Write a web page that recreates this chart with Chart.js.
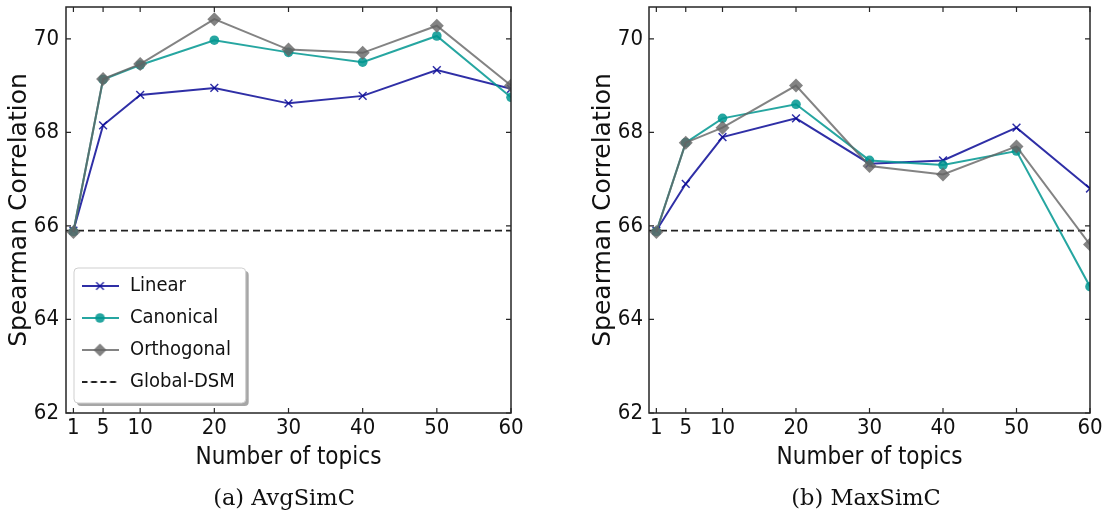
<!DOCTYPE html>
<html>
<head>
<meta charset="utf-8">
<script src="https://cdn.jsdelivr.net/npm/chart.js@4.4.1/dist/chart.umd.min.js"></script>
<style>
  html, body { margin: 0; padding: 0; background: #fff; }
  #wrap { position: relative; width: 1108px; height: 514px; overflow: hidden; }
  .pane { position: absolute; top: 0; height: 514px; }
  #paneA { left: 0; width: 560px; }
  #paneB { left: 560px; width: 548px; }
  .caption {
    position: absolute; top: 483px; transform: translateX(-50%);
    font-family: 'DejaVu Serif', 'Liberation Serif', serif; font-size: 22.5px;
    color: #111; white-space: nowrap; line-height: 28px;
  }
</style>
</head>
<body>
<div id="wrap">
  <div class="pane" id="paneA"><canvas id="chartA" width="560" height="514"></canvas></div>
  <div class="pane" id="paneB"><canvas id="chartB" width="548" height="514"></canvas></div>
  <div class="caption" style="left:284px">(a) AvgSimC</div>
  <div class="caption" style="left:866px">(b) MaxSimC</div>
</div>
<script>
// Number of topics on the x axis
const topics = [1, 5, 10, 20, 30, 40, 50, 60];
const xTicks = [1, 5, 10, 20, 30, 40, 50, 60];
const yTicks = [62, 64, 66, 68, 70];
const xRange = [0, 60];
const yRange = [62, 70.68];

// Global-DSM baseline (same in both panels)
const globalDsm = 65.9;

// (a) AvgSimC
const avgLinear     = [65.9, 68.15, 68.8, 68.95, 68.62, 68.78, 69.33, 68.93];
const avgCanonical  = [65.88, 69.13, 69.44, 69.97, 69.71, 69.5, 70.06, 68.75];
const avgOrthogonal = [65.87, 69.14, 69.46, 70.42, 69.77, 69.7, 70.28, 69.0];

// (b) MaxSimC
const maxLinear     = [65.9, 66.9, 67.9, 68.3, 67.33, 67.4, 68.1, 66.8];
const maxCanonical  = [65.88, 67.78, 68.3, 68.6, 67.4, 67.3, 67.6, 64.7];
const maxOrthogonal = [65.87, 67.78, 68.1, 69.0, 67.28, 67.1, 67.7, 65.6];

const seriesNames = ['Linear', 'Canonical', 'Orthogonal', 'Global-DSM'];

const COLORS = {
  linear: 'rgba(10,10,150,0.85)',
  canonical: 'rgba(0,150,145,0.85)',
  orthogonal: 'rgba(100,100,100,0.8)',
  dsm: '#222222'
};
const SANS_NARROW = "'DejaVu Sans Condensed', 'DejaVu Sans', sans-serif";
const SANS = "'DejaVu Sans', sans-serif";

function pts(values) { return topics.map((t, i) => ({ x: t, y: values[i] })); }

// Small line-plus-marker swatches for the legend
function swatch(color, marker, dash) {
  const c = document.createElement('canvas');
  c.width = 37; c.height = 16;
  const g = c.getContext('2d');
  g.strokeStyle = color; g.fillStyle = color; g.lineWidth = 2;
  if (dash) g.setLineDash(dash);
  g.beginPath(); g.moveTo(0, 8); g.lineTo(37, 8); g.stroke();
  g.setLineDash([]);
  const cx = 18.5, cy = 8;
  if (marker === 'x') {
    g.lineWidth = 1.5;
    g.beginPath();
    g.moveTo(cx - 3.8, cy - 3.8); g.lineTo(cx + 3.8, cy + 3.8);
    g.moveTo(cx - 3.8, cy + 3.8); g.lineTo(cx + 3.8, cy - 3.8);
    g.stroke();
  } else if (marker === 'o') {
    g.beginPath(); g.arc(cx, cy, 4.8, 0, Math.PI * 2); g.fill();
  } else if (marker === 'd') {
    g.beginPath();
    g.moveTo(cx, cy - 6.5); g.lineTo(cx + 6.5, cy); g.lineTo(cx, cy + 6.5); g.lineTo(cx - 6.5, cy);
    g.closePath(); g.fill();
  }
  return c;
}

const legendSwatches = [
  swatch(COLORS.linear, 'x'),
  swatch(COLORS.canonical, 'o'),
  swatch(COLORS.orthogonal, 'd'),
  swatch(COLORS.dsm, null, [6, 3.5])
];

// Frame on all four sides with inward tick marks
const framePlugin = {
  id: 'frame',
  afterDraw(chart) {
    const { ctx, chartArea: a } = chart;
    const xs = chart.scales.x, ys = chart.scales.y;
    const len = 5;
    ctx.save();
    ctx.strokeStyle = '#262626';
    ctx.lineWidth = 1.2;
    ctx.beginPath();
    xs.ticks.forEach(t => {
      const px = xs.getPixelForValue(t.value);
      ctx.moveTo(px, a.bottom); ctx.lineTo(px, a.bottom - len);
      ctx.moveTo(px, a.top); ctx.lineTo(px, a.top + len);
    });
    ys.ticks.forEach(t => {
      const py = ys.getPixelForValue(t.value);
      ctx.moveTo(a.left, py); ctx.lineTo(a.left + len, py);
      ctx.moveTo(a.right, py); ctx.lineTo(a.right - len, py);
    });
    ctx.stroke();
    ctx.lineWidth = 1.5;
    ctx.strokeRect(a.left, a.top, a.right - a.left, a.bottom - a.top);
    ctx.restore();
  }
};

// Legend placement inside the plot, plus its rounded shadowed box
const legendBoxPlugin = {
  id: 'legendBox',
  afterLayout(chart) {
    const lg = chart.legend;
    if (!lg || !lg.options.display) return;
    const a = chart.chartArea;
    lg.left = a.left + 2;
    lg.right = a.right;
    lg.top = a.top;
    lg.bottom = a.bottom - 9;
  },
  beforeDraw(chart) {
    const lg = chart.legend;
    if (!lg || !lg.options.display || !lg.columnSizes || !lg.columnSizes.length) return;
    const pad = lg.options.labels.padding;
    const col = lg.columnSizes[0];
    const itemsX = lg.left + pad;
    const startY = lg.bottom - col.height;
    const x0 = itemsX - 6, y0 = startY - 8;
    const x1 = itemsX + col.width + 11, y1 = lg.bottom - 1;
    const ctx = chart.ctx;
    const r = 4;
    function rr(x, y, w, h) {
      ctx.beginPath();
      ctx.moveTo(x + r, y);
      ctx.arcTo(x + w, y, x + w, y + h, r);
      ctx.arcTo(x + w, y + h, x, y + h, r);
      ctx.arcTo(x, y + h, x, y, r);
      ctx.arcTo(x, y, x + w, y, r);
      ctx.closePath();
    }
    ctx.save();
    ctx.fillStyle = 'rgba(0,0,0,0.35)';
    rr(x0 + 3, y0 + 3, x1 - x0, y1 - y0);
    ctx.fill();
    ctx.fillStyle = '#ffffff';
    ctx.strokeStyle = '#cfcfcf';
    ctx.lineWidth = 1;
    rr(x0, y0, x1 - x0, y1 - y0);
    ctx.fill();
    ctx.stroke();
    ctx.restore();
  }
};

function noEdgePadding(s) {
  s.paddingTop = 0; s.paddingBottom = 0; s.paddingLeft = 0; s.paddingRight = 0;
}

function makeChart(canvasId, lin, can, orth, opts) {
  const datasets = [
    {
      label: seriesNames[0], data: pts(lin), order: 3,
      borderColor: COLORS.linear, backgroundColor: COLORS.linear,
      borderWidth: 2, pointStyle: 'crossRot', pointRadius: 5.5,
      pointBorderWidth: 1.5, pointBorderColor: COLORS.linear
    },
    {
      label: seriesNames[1], data: pts(can), order: 2,
      borderColor: COLORS.canonical, backgroundColor: COLORS.canonical,
      borderWidth: 2, pointStyle: 'circle', pointRadius: 4.8,
      pointBorderWidth: 0, pointBackgroundColor: COLORS.canonical
    },
    {
      label: seriesNames[2], data: pts(orth), order: 1,
      borderColor: COLORS.orthogonal, backgroundColor: COLORS.orthogonal,
      borderWidth: 2, pointStyle: 'rectRot', pointRadius: 7,
      pointBorderWidth: 0, pointBackgroundColor: COLORS.orthogonal
    },
    {
      label: seriesNames[3], data: xRange.map(x => ({ x: x, y: globalDsm })), order: 4,
      borderColor: COLORS.dsm, borderWidth: 1.8, borderDash: [7, 4],
      pointRadius: 0
    }
  ];

  return new Chart(document.getElementById(canvasId), {
    type: 'line',
    data: { datasets },
    plugins: [legendBoxPlugin, framePlugin],
    options: {
      responsive: false,
      animation: false,
      layout: { padding: opts.padding },
      elements: { line: { tension: 0 } },
      scales: {
        x: {
          type: 'linear', min: xRange[0], max: xRange[1],
          afterBuildTicks: s => { s.ticks = xTicks.map(v => ({ value: v })); },
          afterFit: s => { s.height = 63; noEdgePadding(s); },
          grid: { display: false, drawTicks: false },
          border: { display: false },
          ticks: {
            padding: 2, color: '#111', maxRotation: 0, autoSkip: false,
            font: { family: SANS_NARROW, size: 22 },
            callback: v => String(v)
          },
          title: {
            display: true, text: 'Number of topics', color: '#111',
            font: { family: SANS_NARROW, size: 24 },
            padding: { top: 4, bottom: 4 }
          }
        },
        y: {
          type: 'linear', min: yRange[0], max: yRange[1],
          afterBuildTicks: s => { s.ticks = yTicks.map(v => ({ value: v })); },
          afterFit: s => { s.width = opts.yWidth; noEdgePadding(s); },
          grid: { display: false, drawTicks: false },
          border: { display: false },
          ticks: {
            padding: opts.yPad, color: '#111', autoSkip: false,
            font: { family: SANS_NARROW, size: 22 },
            callback: v => String(v)
          },
          title: {
            display: true, text: 'Spearman Correlation', color: '#111',
            font: { family: SANS, size: 25 },
            padding: { top: 4, bottom: 4 }
          }
        }
      },
      plugins: {
        tooltip: { enabled: false },
        legend: {
          display: opts.legend,
          position: 'chartArea',
          align: 'end',
          labels: {
            color: '#111',
            font: { family: SANS_NARROW, size: 20 },
            usePointStyle: true,
            pointStyleWidth: 40,
            padding: 12,
            generateLabels: () => seriesNames.map((name, i) => ({
              text: name,
              pointStyle: legendSwatches[i],
              datasetIndex: i,
              hidden: false,
              fontColor: '#111',
              lineWidth: 0,
              strokeStyle: 'rgba(0,0,0,0)',
              fillStyle: 'rgba(0,0,0,0)'
            }))
          }
        }
      }
    }
  });
}

makeChart('chartA', avgLinear, avgCanonical, avgOrthogonal, {
  padding: { left: 0, top: 5, right: 49, bottom: 38 }, yWidth: 66, yPad: 7, legend: true
});
makeChart('chartB', maxLinear, maxCanonical, maxOrthogonal, {
  padding: { left: 24, top: 5, right: 18, bottom: 38 }, yWidth: 65, yPad: 6, legend: false
});
</script>
</body>
</html>
